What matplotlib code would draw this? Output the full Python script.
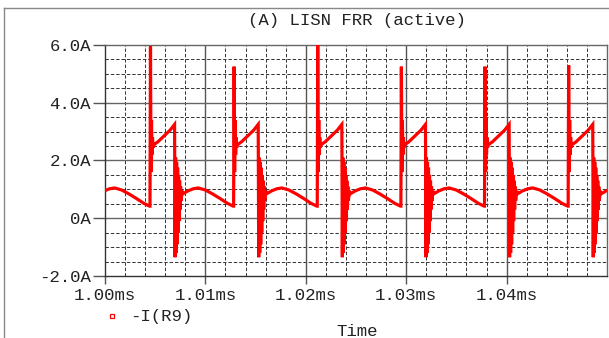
import numpy as np
import matplotlib.pyplot as plt
from matplotlib.lines import Line2D
from matplotlib.ticker import FixedLocator

# ==========================================
# DATA
# ==========================================
# switching events (ms) and the height of each turn-on spike (A)
spike_times_ms = [0.99615, 1.00448, 1.01281, 1.02114, 1.02947, 1.03780, 1.04613]
spike_peaks_a = [5.3, 5.95, 5.25, 6.0, 5.25, 5.25, 5.3]

# one switching cycle, offsets in us after each event; index 1 is the spike
cycle_offsets_us = [0.00, 0.05, 0.10, 0.15, 0.20, 0.25, 0.30, 0.40,
                    0.8, 1.4, 2.0, 2.45,
                    2.50, 2.55, 2.60, 2.65, 2.70, 2.75, 2.80, 2.85,
                    2.90, 2.95, 3.00, 3.05, 3.10, 3.20, 3.30,
                    3.8, 4.3, 4.8, 5.5, 6.2, 7.0, 7.7, 8.28]
cycle_current_a = [0.42, 0.0, 1.6, 3.4, 2.2, 2.8, 2.45, 2.55,
                   2.65, 2.85, 3.05, 3.25,
                   -1.35, 2.1, -1.2, 1.95, -0.9, 1.75, -0.5, 1.5,
                   -0.1, 1.3, 0.3, 1.1, 0.6, 0.95, 0.85,
                   0.95, 1.02, 1.05, 0.98, 0.85, 0.68, 0.52, 0.42]

x_ticks = [1.00, 1.01, 1.02, 1.03, 1.04]
x_labels = ["1.00ms", "1.01ms", "1.02ms", "1.03ms", "1.04ms"]
y_ticks = [-2.0, 0.0, 2.0, 4.0, 6.0]
y_labels = ["-2.0A", "0A", "2.0A", "4.0A", "6.0A"]

# ==========================================
# BUILD TRACE
# ==========================================
t_all, i_all = [], []
for t0, pk in zip(spike_times_ms, spike_peaks_a):
    vals = list(cycle_current_a)
    vals[1] = pk
    t_all.extend([t0 + o / 1000.0 for o in cycle_offsets_us])
    i_all.extend(vals)
t_all = np.array(t_all)
i_all = np.array(i_all)

# ==========================================
# PLOT
# ==========================================
mono = "Liberation Mono"
fig = plt.figure(figsize=(6.09, 3.38), dpi=100)
ax = fig.add_axes([105 / 609, 1 - 276 / 338, 502 / 609, 231 / 338])

# grid: dashed minor, solid major
for x in np.arange(1.0, 1.05001, 0.002):
    ax.axvline(x, color="#333333", lw=0.7, ls=(0, (3.5, 2)), zorder=1)
for y in np.arange(-2.0, 6.001, 0.5):
    ax.axhline(y, color="#333333", lw=0.7, ls=(0, (3.5, 2)), zorder=1)
for x in x_ticks[1:]:
    ax.axvline(x, color="#555555", lw=1.0, zorder=1.5)
for y in [0.0, 2.0, 4.0]:
    ax.axhline(y, color="#666666", lw=1.0, zorder=1.5)

ax.plot(t_all, i_all, color="#ff0000", lw=2.3, zorder=3, solid_joinstyle="miter")

ax.set_xlim(1.0, 1.05)
ax.set_ylim(-2.0, 6.0)
ax.xaxis.set_major_locator(FixedLocator(x_ticks))
ax.yaxis.set_major_locator(FixedLocator(y_ticks))
ax.set_xticklabels(x_labels, fontfamily=mono, fontsize=12.5, color="#222222")
ax.set_yticklabels(y_labels, fontfamily=mono, fontsize=12.5, color="#222222")
ax.tick_params(axis="y", direction="out", length=9, width=1, pad=1, color="#555555")
ax.tick_params(axis="x", direction="out", length=6, width=1, pad=3, color="#555555")

ax.spines["left"].set_color("#333333")
ax.spines["bottom"].set_color("#333333")
ax.spines["top"].set_color("#666666")
ax.spines["right"].set_color("#666666")
for s in ax.spines.values():
    s.set_linewidth(1.0)

# texts
fig.text(357 / 609, 1 - 20 / 338, "(A) LISN FRR (active)", ha="center", va="center",
         fontfamily=mono, fontsize=12.5, color="#222222")
fig.text(130 / 609, 1 - 316 / 338, "-I(R9)", ha="left", va="center",
         fontfamily=mono, fontsize=12.5, color="#222222")
fig.add_artist(Line2D([112 / 609], [1 - 316 / 338], marker="s", markersize=3.5,
                      markerfacecolor="none", markeredgecolor="#ff0000", mew=0.9))
fig.text(357 / 609, 1 - 331 / 338, "Time", ha="center", va="center",
         fontfamily=mono, fontsize=12.5, color="#222222")

# outer frame of the plot window
fig.add_artist(Line2D([4 / 609, 4 / 609], [0, 1 - 8 / 338], color="#888888", lw=1.0))
fig.add_artist(Line2D([4 / 609, 1], [1 - 8 / 338, 1 - 8 / 338], color="#888888", lw=1.0))

fig.savefig("out.png", dpi=100)
